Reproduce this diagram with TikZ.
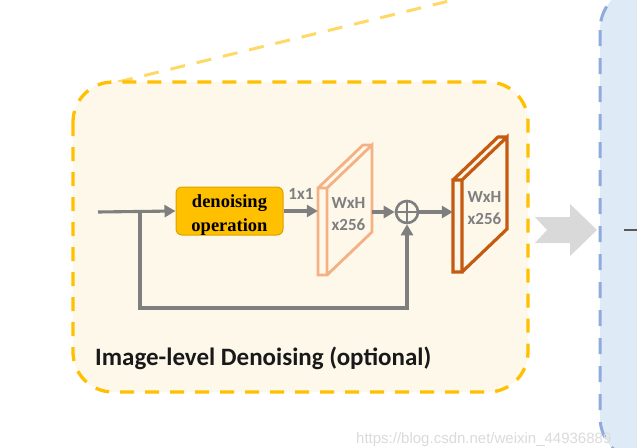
\documentclass[tikz,border=0pt]{standalone}
\usepackage{fontspec}
\setmainfont{Carlito}
\newfontfamily\opfont{Liberation Serif}
\newfontfamily\wmfont{Liberation Sans}
\usetikzlibrary{arrows.meta}
\definecolor{cream}{HTML}{FEF8EB}
\definecolor{orng}{HTML}{FFC000}
\definecolor{orngl}{HTML}{FFD966}
\definecolor{blueb}{HTML}{8FAADC}
\definecolor{bluef}{HTML}{DEEBF7}
\definecolor{garr}{HTML}{7F7F7F}
\definecolor{bigarr}{HTML}{D9D9D9}
\definecolor{salmon}{HTML}{F4B183}
\definecolor{rust}{HTML}{C55A11}
\definecolor{opfill}{HTML}{FFC000}
\definecolor{opdraw}{HTML}{D9A300}
\begin{document}
\begin{tikzpicture}[x=1pt,y=-1pt,
  orangebox/.style={draw=orng, fill=cream, line width=3.3pt, dash pattern=on 14pt off 11pt, rounded corners=40pt},
  bluebox/.style={draw=blueb, fill=bluef, line width=3pt, dash pattern=on 16pt off 12pt, rounded corners=45pt},
  diagline/.style={draw=orngl, line width=3pt, dash pattern=on 15pt off 12pt},
  garrow/.style={draw=garr, line width=3.1pt, -{Triangle[length=11pt,width=12pt]}},
  gline/.style={draw=garr, line width=3.1pt},
  opbox/.style={draw=opdraw, fill=opfill, line width=1pt, rounded corners=6pt, minimum width=107pt, minimum height=48pt, inner sep=0pt},
  optext/.style={inner sep=0pt, align=center, font=\opfont\bfseries\fontsize{18.5}{24}\selectfont},
  sumnode/.style={circle, draw=garr, line width=2.6pt, minimum size=22pt, inner sep=0pt},
  facetxt/.style={text=garr, font=\bfseries\fontsize{17}{20}\selectfont, inner sep=0pt},
  frontface/.style={inner sep=0pt, minimum width=9pt},
]
\useasboundingbox (0,0) rectangle (637,447);
\clip (0,0) rectangle (637,447);
\fill[white] (0,0) rectangle (637,447);

% right (blue) container
\draw[bluebox] (600,-15) rectangle (720,462);
\coordinate (bin) at (624,230);
\coordinate (bout) at (640,230);
\draw[draw=black!65, line width=2pt] (bin) -- (bout);

% big grey arrow
\fill[bigarr] (535,217) -- (570,217) -- (570,204) -- (597,230) -- (570,256) -- (570,243) -- (535,243) -- (547,230) -- cycle;

% diagonal dashed line
\draw[diagline] (118,82) -- (453,0);

% orange container
\draw[orangebox] (73,82) rectangle (528,392);

% denoising operation
\node[opbox] (op) at (229.5,211) {};
\node[optext] (optxt) at (229.5,215.5) {denoising\\operation};

% input and skip path
\coordinate (in) at (98,212);
\coordinate (br) at (140,212);
\coordinate (bot) at (140,308);
\draw[garrow] (in) -- (op.west);

% sum node
\node[sumnode] (sum) at (407,212) {};
\draw[gline, line width=2.4pt] (sum.north) -- (sum.south) (sum.west) -- (sum.east);
\draw[garrow] (br) -- (bot) -| (sum.south);

% plane 1 (light salmon)
\node[frontface, minimum height=87pt] (p1) at (322.5,231.5) {};
\draw[draw=salmon, line width=2.8pt, line join=miter]
  (318,188) rectangle (327,275)
  (327,188) -- (372,145) -- (372,232) -- (327,275)
  (318,188) -- (363,145) -- (372,145);
\coordinate (p1out) at (372,212);
\node[facetxt] (p1a) at (348.5,203) {WxH};
\node[facetxt] (p1b) at (348.5,225) {x256};

% plane 2 (rust)
\node[frontface, minimum height=92pt] (p2) at (457.5,226) {};
\draw[draw=rust, line width=3.2pt, line join=miter]
  (453,180) rectangle (462,272)
  (462,180) -- (507,137) -- (507,229) -- (462,272)
  (453,180) -- (498,137) -- (507,137);
\node[facetxt] (p2a) at (484.5,197) {WxH};
\node[facetxt] (p2b) at (484.5,219) {x256};

% connectors
\draw[garrow] (op.east) -- (p1.west |- op.east);
\node[facetxt, font=\bfseries\fontsize{17}{19}\selectfont] (k) at (301,194) {1x1};
\draw[garrow] (p1out) -- (sum.west);
\draw[garrow] (sum.east) -- (p2.west |- sum.east);

% caption
\node[anchor=west, inner sep=0pt, text=black!90, font=\bfseries\fontsize{25}{28}\selectfont] (cap) at (95,358) {Image-level Denoising (optional)};

% watermark
\node[anchor=west, inner sep=0pt, text=black!14, font=\wmfont\fontsize{15}{18}\selectfont] (wm) at (356,440) {https://blog.csdn.net/weixin\_44936889};
\end{tikzpicture}
\end{document}
